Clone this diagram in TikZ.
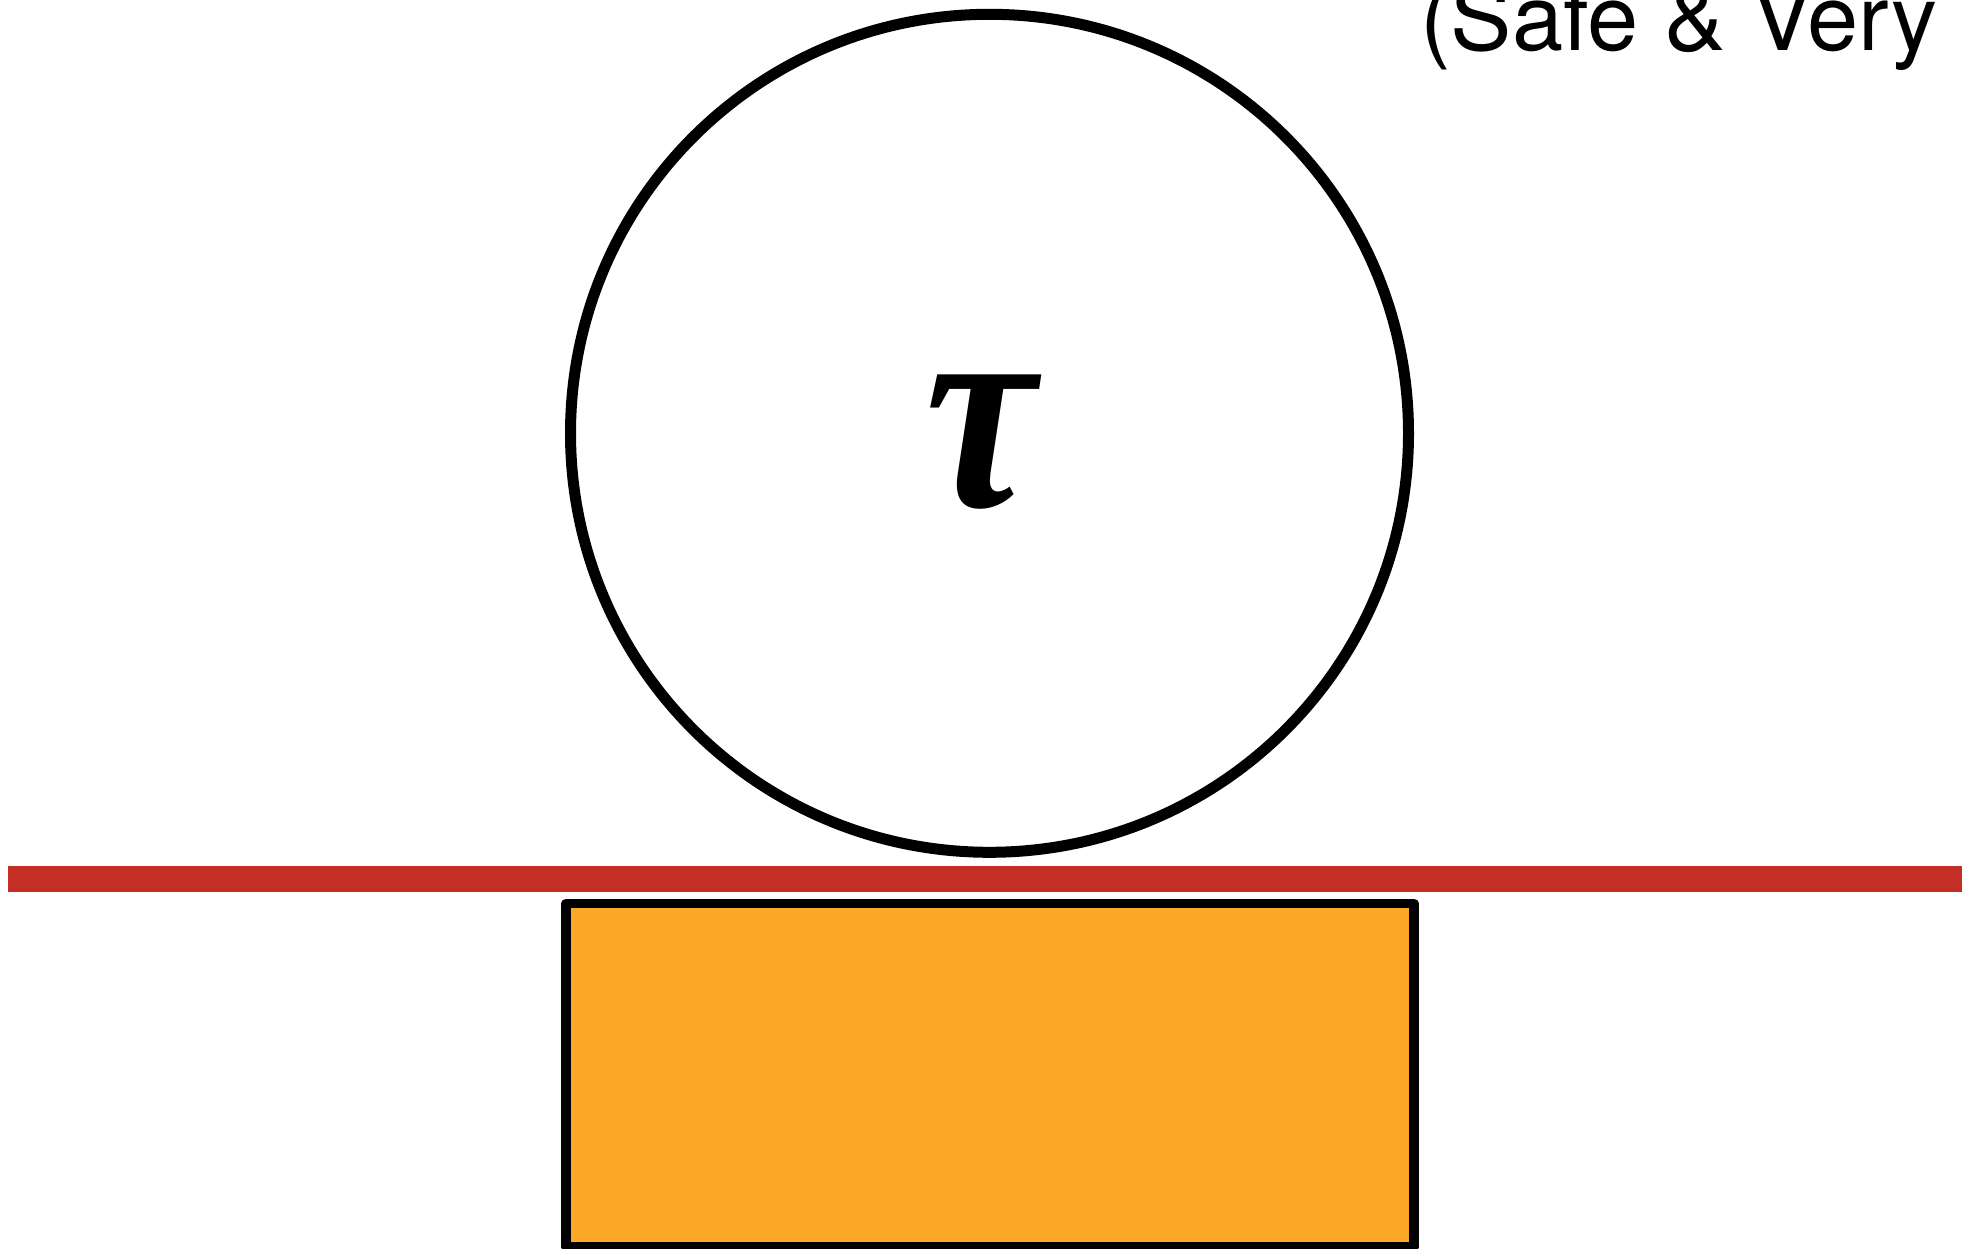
\documentclass[tikz,border=0pt]{standalone}
\usepackage{fontspec}
\usepackage{graphicx}
\setsansfont{TeX Gyre Heros}
\newfontfamily\greekfont{Liberation Serif}
\definecolor{barred}{HTML}{C32E25}
\definecolor{blockorange}{HTML}{FBA827}
\begin{document}
\begin{tikzpicture}[x=1pt, y=-1pt, line join=round, font=\sffamily]
	\def\W{1962} \def\H{1249}
	\tikzset{ball/.style={circle, draw, line width=11pt, minimum size=838pt, inner sep=0pt},
		block/.style={draw, line width=9.5pt, fill=blockorange, minimum width=848pt, minimum height=343.5pt, inner sep=0pt}}
	\clip (0,0) rectangle (\W,\H);
	\useasboundingbox (0,0) rectangle (\W,\H);
	\fill [barred] (8,866) rectangle (\W,892);
	\node [ball] (ball) at (989.5,433.3) {};
	\node [inner sep=0pt, font=\greekfont\bfseries\itshape] (tau) at (981,442) {\resizebox*{110pt}{134pt}{τ}};
	\node [block] (block) at (990,1075.25) {};
	\node [anchor=base west, inner sep=0pt, font=\fontsize{92}{92}\selectfont\sffamily] (mode) at (1420,51) {(Safe \& Very};
\end{tikzpicture}
\end{document}
